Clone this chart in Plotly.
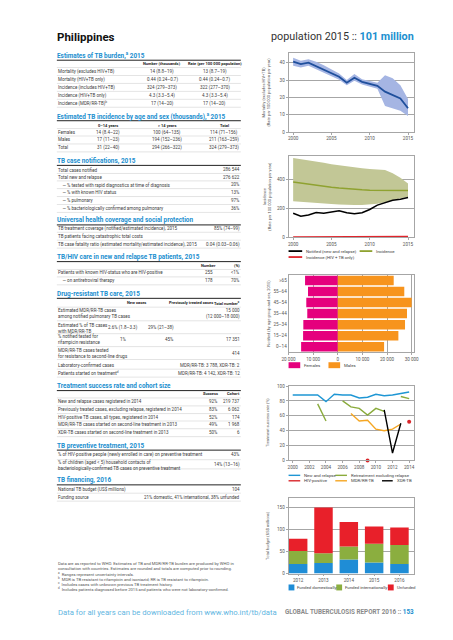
import plotly.graph_objects as go

W, H = 453, 640
def X(px): return px / W
def Y(py): return 1 - py / H

# ---------------- DATA ----------------
years = list(range(2000, 2016))
mort = [40.6, 39.2, 40.0, 38.0, 36.2, 34.2, 31.9, 28.5, 31.3, 29.0, 27.9, 26.7, 23.3, 21.3, 19.4, 13.7]
mort_lo = [38.2, 37.3, 38.3, 36.3, 34.5, 32.5, 30.2, 27.0, 29.6, 27.5, 26.3, 25.0, 15.0, 13.5, 12.3, 9.2]
mort_hi = [42.8, 41.2, 42.0, 40.5, 38.5, 36.3, 33.8, 30.0, 33.5, 30.5, 29.5, 28.4, 32.7, 31.0, 27.0, 19.0]

inc = [380, 372, 364, 357, 350, 344, 338, 333, 329, 326, 324, 323, 322, 322, 322, 322]
inc_lo = [248, 245, 240, 236, 232, 228, 225, 222, 222, 222, 225, 230, 240, 255, 268, 277]
inc_hi = [545, 538, 530, 520, 512, 503, 495, 487, 480, 475, 470, 467, 462, 440, 410, 370]
notified = [165, 144, 153, 170, 165, 175, 182, 168, 161, 168, 191, 221, 240, 254, 261, 274]
inc_hiv = [1.5, 1.7, 1.9, 2.1, 2.3, 2.5, 2.7, 2.9, 3.1, 3.3, 3.5, 3.7, 3.9, 4.1, 4.2, 4.3]

age_groups = ["0–14", "15–24", "25–34", "35–44", "45–54", "55–64", "≥65"]
females = [14900, 14100, 14000, 12400, 12800, 12100, 13300]
males = [18800, 24600, 27300, 28100, 30000, 27000, 22700]
pyr_ticks = [-20000, -10000, 0, 10000, 20000, 30000]
pyr_ticktext = ["20 000", "10 000", "0", "10 000", "20 000", "30 000"]

ts_years = list(range(2000, 2015))
ts_new = [88, 88, 88, 88, 79, 89, 88, 88, 84, 85, 89, 87, 88, 90, 92]
ts_ret = [None, None, None, 76, 53, None, 80, 72, 70, 61, 70, 66, None, 86, 83]
ts_hiv = [None, None, None, None, None, None, None, None, None, 0, None, None, None, None, 52]
ts_mdr = [None, None, None, None, None, None, None, 63, 53, 54, 42, 40, 42, 49, None]
ts_xdr = [None, None, None, None, None, None, None, None, None, None, None, 68, 10, 50, None]

bud_years = [2012, 2013, 2014, 2015, 2016]
bud_dom = [21.5, 23.7, 31.8, 25.2, 21.8]
bud_int = [29.5, 22.3, 29.0, 42.2, 42.6]
bud_unf = [27.5, 103.0, 55.5, 38.6, 39.5]

burden_head = ["Number (thousands)", "Rate (per 100 000 population)"]
burden_rows = [
    ["Mortality (excludes HIV+TB)", "14 (8.8–19)", "13 (8.7–19)"],
    ["Mortality (HIV+TB only)", "0.44 (0.24–0.7)", "0.44 (0.24–0.7)"],
    ["Incidence (includes HIV+TB)", "324 (279–373)", "322 (277–370)"],
    ["Incidence (HIV+TB only)", "4.3 (3.3–5.4)", "4.3 (3.3–5.4)"],
    ["Incidence (MDR/RR-TB)<sup>b</sup>", "17 (14–20)", "17 (14–20)"],
]
agesex_head = ["0–14 years", "> 14 years", "Total"]
agesex_rows = [
    ["Females", "14 (8.4–22)", "100 (64–135)", "114 (71–156)"],
    ["Males", "17 (11–23)", "194 (152–236)", "211 (163–259)"],
    ["Total", "31 (22–40)", "294 (266–322)", "324 (279–373)"],
]
notif_rows = [
    ["Total cases notified", "286 544"],
    ["Total new and relapse", "276 622"],
    ["    — % tested with rapid diagnostics at time of diagnosis", "20%"],
    ["    — % with known HIV status", "13%"],
    ["    — % pulmonary", "97%"],
    ["    — % bacteriologically confirmed among pulmonary", "36%"],
]
uhc_rows = [
    ["TB treatment coverage (notified/estimated incidence), 2015", "85% (74–99)"],
    ["TB patients facing catastrophic total costs", ""],
    ["TB case fatality ratio (estimated mortality/estimated incidence), 2015", "0.04 (0.03–0.06)"],
]
tbhiv_head = ["Number", "(%)"]
tbhiv_rows = [
    ["Patients with known HIV-status who are HIV-positive", "255", "<1%"],
    ["    — on antiretroviral therapy", "178", "70%"],
]
dr_head = ["New cases", "Previously treated cases", "Total number<sup>c</sup>"]
dr_rows = [
    ["Estimated MDR/RR-TB cases<br>among notified pulmonary TB cases", "", "", "15 000<br>(12 000–18 000)"],
    ["Estimated % of TB cases<br>with MDR/RR-TB", "2.6% (1.8–3.3)", "29% (21–38)", ""],
    ["% notified tested for<br>rifampicin resistance", "1%", "45%", "17 351"],
    ["MDR/RR-TB cases tested<br>for resistance to second-line drugs", "", "", "414"],
    ["Laboratory-confirmed cases", "", "", "MDR/RR-TB: 3 788, XDR-TB: 2"],
    ["Patients started on treatment<sup>d</sup>", "", "", "MDR/RR-TB: 4 142, XDR-TB: 12"],
]
tsr_head = ["Success", "Cohort"]
tsr_rows = [
    ["New and relapse cases registered in 2014", "92%", "219 737"],
    ["Previously treated cases, excluding relapse, registered in 2014", "83%", "6 062"],
    ["HIV-positive TB cases, all types, registered in 2014", "52%", "174"],
    ["MDR/RR-TB cases started on second-line treatment in 2013", "49%", "1 968"],
    ["XDR-TB cases started on second-line treatment in 2013", "50%", "6"],
]
prev_rows = [
    ["% of HIV-positive people (newly enrolled in care) on preventive treatment", "43%"],
    ["% of children (aged < 5) household contacts of<br>bacteriologically-confirmed TB cases on preventive treatment", "14% (13–16)"],
]
fin_rows = [
    ["National TB budget (US$ millions)", "104"],
    ["Funding source", "21% domestic, 41% international, 38% unfunded"],
]
footnotes = [
    "Data are as reported to WHO. Estimates of TB and MDR/RR-TB burden are produced by WHO in",
    "consultation with countries. Estimates are rounded and totals are computed prior to rounding.",
    "<sup>a</sup>  Ranges represent uncertainty intervals.",
    "<sup>b</sup>  MDR is TB resistant to rifampicin and isoniazid; RR is TB resistant to rifampicin.",
    "<sup>c</sup>  Includes cases with unknown previous TB treatment history.",
    "<sup>d</sup>  Includes patients diagnosed before 2015 and patients who were not laboratory-confirmed.",
]

# ---------------- STYLE HELPERS ----------------
FONT = "Roboto"
TXT = "#3c3c3c"
BLUE = "#1b8fcf"
ann, shp = [], []

def text(x, y, s, size=4.5, color=TXT, anchor="left", bold=False, angle=0, yanchor="middle"):
    if bold:
        s = "<b>" + s + "</b>"
    ann.append(dict(x=X(x), y=Y(y), xref="paper", yref="paper", text=s, showarrow=False,
                    xanchor=anchor, yanchor=yanchor, textangle=angle, borderpad=0,
                    align=anchor if anchor in ("left", "right") else "center",
                    font=dict(size=size, color=color, family=FONT)))

def hline(x0, x1, y, color="#c9c9c9", w=0.5):
    shp.append(dict(type="line", xref="paper", yref="paper", x0=X(x0), x1=X(x1),
                    y0=Y(y), y1=Y(y), line=dict(color=color, width=w)))

def rect(x0, y0, x1, y1, color):
    shp.append(dict(type="rect", xref="paper", yref="paper", x0=X(x0), x1=X(x1),
                    y0=Y(y1), y1=Y(y0), line=dict(width=0), fillcolor=color))

TL, TR = 43, 232

def section(title, hy, rows, ys, cols, head=None, head_y=None):
    text(TL - 1, hy, title, size=6.4, color=BLUE, bold=True)
    hline(TL, TR, hy + 4.6, color="#222222", w=1)
    allys = []
    if head is not None:
        for (cx, an), h in zip(cols, head):
            text(cx, head_y, h, size=4.0, anchor=an, bold=True, color="#222222")
        allys.append(head_y)
    for r, y in zip(rows, ys):
        text(TL, y, r[0])
        for (cx, an), v in zip(cols, r[1:]):
            if v:
                text(cx, y, v, anchor=an)
        allys.append(y)
    for i, y in enumerate(allys):
        nxt = allys[i + 1] if i + 1 < len(allys) else None
        sy = (y + nxt) / 2 if nxt is not None else y + 4
        hline(TL, TR, sy)

# ---------------- PAGE TEXT ----------------
text(42, 27, "Philippines", size=11.5, color="#111111", bold=True)
text(411, 27, "population 2015 :: <b><span style='color:%s'>101 million</span></b>" % BLUE,
     size=10.8, color="#333333", anchor="right")

section("Estimates of TB burden,<sup>a</sup> 2015", 46, burden_rows, [62, 70, 78, 86, 94],
        [(151, "center"), (205, "center")], burden_head, 54)
section("Estimated TB incidence by age and sex (thousands),<sup>a</sup> 2015", 107, agesex_rows,
        [123, 131, 139], [(96, "center"), (156, "center"), (215, "center")], agesex_head, 116)
section("TB case notifications, 2015", 152, notif_rows, [161, 168.5, 176, 184, 192, 200],
        [(TR, "right")])
section("Universal health coverage and social protection", 212, uhc_rows, [220, 228, 236],
        [(TR, "right")])
section("TB/HIV care in new and relapse TB patients, 2015", 249, tbhiv_rows, [265, 273],
        [(199, "center"), (TR, "right")], tbhiv_head, 258)
section("Drug-resistant TB care, 2015", 286, dr_rows, [306, 320.5, 332, 346.5, 358, 366],
        [(111, "center"), (164, "right"), (TR, "right")], None, None)
for (cx, an), h in zip([(125, "center"), (181, "center"), (TR, "right")], dr_head):
    text(cx, 295, h, size=4.0, anchor=an, bold=True, color="#222222")
hline(TL, TR, 299.5)
section("Treatment success rate and cohort size", 379, tsr_rows, [395, 403, 410.5, 418, 426],
        [(210, "right"), (TR, "right")], tsr_head, 387)
section("TB preventive treatment, 2015", 439, prev_rows, [448, 458.5], [(TR, "right")])
section("TB financing, 2016", 474, fin_rows, [483, 491], [(TR, "right")])

for i, f in enumerate(footnotes):
    text(TL, 558 + i * 5.2, f, size=4.2, color="#555555")
text(TL, 607, "Data for all years can be downloaded from www.who.int/tb/data", size=7.7, color="#5fb6df")
text(411, 607, "<b>GLOBAL TUBERCULOSIS REPORT 2016 :: </b><b><span style='color:%s'>153</span></b>" % BLUE,
     size=6.3, color="#8a8a8a", anchor="right")

# ---------------- CHARTS ----------------
fig = go.Figure()
PX0, PX1 = 281, 410
doms = {1: (43, 123), 2: (147, 229), 3: (267, 345), 4: (379, 454), 5: (492, 568)}
GRID = "#a6a6a6"
TICKF = dict(size=4.6, color="#555555", family=FONT)

def axes(n, xr, yr, xtv, ytv, xtt=None, ytt=None, ycat=False, xgrid=False):
    y0, y1 = doms[n]
    xa = dict(domain=[X(PX0), X(PX1)], range=xr, tickvals=xtv, ticktext=xtt, showgrid=xgrid,
              gridcolor=GRID, gridwidth=0.6, showline=True, mirror=True, linecolor=GRID, linewidth=0.8,
              ticks="outside", ticklen=2, tickcolor=GRID, tickfont=TICKF, zeroline=False,
              anchor="y%d" % n if n > 1 else "y", fixedrange=True)
    ya = dict(domain=[Y(y1), Y(y0)], showgrid=not ycat, gridcolor=GRID, gridwidth=0.6,
              showline=True, mirror=True, linecolor=GRID, linewidth=0.8, ticks="outside" if not ycat else "",
              ticklen=2, tickcolor=GRID, tickfont=TICKF, zeroline=False,
              anchor="x%d" % n if n > 1 else "x", fixedrange=True)
    if ycat:
        ya.update(type="category", categoryorder="array", categoryarray=age_groups)
    else:
        ya.update(range=yr, tickvals=ytv, ticktext=ytt)
    k = "" if n == 1 else str(n)
    fig.update_layout(**{"xaxis" + k: xa, "yaxis" + k: ya})

def xy(n):
    return ("x", "y") if n == 1 else ("x%d" % n, "y%d" % n)

# chart 1: mortality
xa, ya = xy(1)
fig.add_trace(go.Scatter(x=years, y=mort_lo, mode="lines", line=dict(width=0), xaxis=xa, yaxis=ya, showlegend=False))
fig.add_trace(go.Scatter(x=years, y=mort_hi, mode="lines", line=dict(width=0), fill="tonexty",
                         fillcolor="#a5b5e3", xaxis=xa, yaxis=ya, showlegend=False))
fig.add_trace(go.Scatter(x=years, y=mort, mode="lines", line=dict(color="#1f4f9c", width=1.8),
                         xaxis=xa, yaxis=ya, showlegend=False))
axes(1, [1999.4, 2015.8], [0, 45.8], [2000, 2005, 2010, 2015], [0, 10, 20, 30, 40])

# chart 2: incidence
xa, ya = xy(2)
fig.add_trace(go.Scatter(x=years, y=inc_lo, mode="lines", line=dict(width=0), xaxis=xa, yaxis=ya, showlegend=False))
fig.add_trace(go.Scatter(x=years, y=inc_hi, mode="lines", line=dict(width=0), fill="tonexty",
                         fillcolor="#c2c796", xaxis=xa, yaxis=ya, showlegend=False))
fig.add_trace(go.Scatter(x=years, y=inc, mode="lines", line=dict(color="#8fa230", width=1.5),
                         xaxis=xa, yaxis=ya, showlegend=False))
fig.add_trace(go.Scatter(x=years, y=notified, mode="lines", line=dict(color="#000000", width=1.5),
                         xaxis=xa, yaxis=ya, showlegend=False))
fig.add_trace(go.Scatter(x=years, y=inc_hiv, mode="lines", line=dict(color="#e0242b", width=1.5),
                         xaxis=xa, yaxis=ya, showlegend=False))
axes(2, [1999.4, 2015.8], [0, 560], [2000, 2005, 2010, 2015], [0, 200, 400])

# chart 3: pyramid
xa, ya = xy(3)
fig.add_trace(go.Bar(y=age_groups, x=[-v for v in females], orientation="h", marker=dict(color="#e5007d", line=dict(width=0)),
                     xaxis=xa, yaxis=ya, showlegend=False, width=0.86))
fig.add_trace(go.Bar(y=age_groups, x=males, orientation="h", marker=dict(color="#f7941d", line=dict(width=0)),
                     xaxis=xa, yaxis=ya, showlegend=False, width=0.86))
axes(3, [-20000, 31000], None, pyr_ticks, None, xtt=pyr_ticktext, ycat=True, xgrid=True)

# chart 4: treatment success
xa, ya = xy(4)
for ys, col in [(ts_new, "#1e96d4"), (ts_ret, "#8aab3c"), (ts_mdr, "#f5a623"), (ts_xdr, "#000000")]:
    fig.add_trace(go.Scatter(x=ts_years, y=ys, mode="lines", line=dict(color=col, width=1.4),
                             connectgaps=False, xaxis=xa, yaxis=ya, showlegend=False))
fig.add_trace(go.Scatter(x=ts_years, y=ts_hiv, mode="markers", marker=dict(color="#d9262b", size=4),
                         xaxis=xa, yaxis=ya, showlegend=False, cliponaxis=False))
axes(4, [1999.5, 2014.6], [0, 100], list(range(2000, 2015, 2)), [0, 20, 40, 60, 80, 100])

# chart 5: budget
xa, ya = xy(5)
for vals, col in [(bud_dom, "#1f8dd6"), (bud_int, "#8bae3f"), (bud_unf, "#e8202a")]:
    fig.add_trace(go.Bar(x=bud_years, y=vals, marker=dict(color=col, line=dict(width=0)), width=0.73,
                         xaxis=xa, yaxis=ya, showlegend=False))
axes(5, [2011.62, 2016.58], [0, 170], bud_years, [0, 50, 100, 150])

# axis titles
text(258, 83, "Mortality (excludes HIV+TB)<br>(Rate per 100 000 population per year)", size=4.0,
     color="#555555", anchor="center", angle=-90)
text(258, 188, "Incidence<br>(Rate per 100 000 population per year)", size=4.0,
     color="#555555", anchor="center", angle=-90)
text(260, 306, "Notified (by age group and sex, 2015)", size=4.0, color="#555555", anchor="center", angle=-90)
text(260, 416, "Treatment success rate (%)", size=4.0, color="#555555", anchor="center", angle=-90)
text(260, 530, "Total budget (US$ millions)", size=4.0, color="#555555", anchor="center", angle=-90)

# manual legends
def lsw(x0, x1, y, col, w=1.8):
    hline(x0, x1, y, color=col, w=w)
LF = 4.3
lsw(281, 295, 243, "#000000"); text(298, 243, "Notified (new and relapse)", size=LF)
lsw(354, 367, 243, "#8fa230"); text(370, 243, "Incidence", size=LF)
lsw(281, 295, 249, "#e0242b"); text(298, 249, "Incidence (HIV + TB only)", size=LF)

rect(281, 355, 293, 361, "#e5007d"); text(296, 358, "Females", size=LF)
rect(322, 355, 334, 361, "#f7941d"); text(337, 358, "Males", size=LF)

lsw(281, 293, 469, "#1e96d4", 1.4); text(296, 469, "New and relapse", size=LF)
lsw(329, 341, 469, "#8aab3c", 1.4); text(344, 469, "Retreatment excluding relapse", size=LF)
lsw(281, 293, 474.5, "#d9262b", 1.4); text(296, 474.5, "HIV-positive", size=LF)
lsw(329, 341, 474.5, "#f5a623", 1.4); text(344, 474.5, "MDR/RR-TB", size=LF)
lsw(377, 388, 474.5, "#000000", 1.4); text(391, 474.5, "XDR-TB", size=LF)

rect(281, 579, 287, 585, "#1f8dd6"); text(289, 582, "Funded domestically", size=LF)
rect(330, 579, 336, 585, "#8bae3f"); text(338, 582, "Funded internationally", size=LF)
rect(383, 579, 389, 585, "#e8202a"); text(391, 582, "Unfunded", size=LF)

fig.update_layout(width=W, height=H, margin=dict(l=0, r=0, t=0, b=0), paper_bgcolor="white",
                  plot_bgcolor="white", barmode="relative", bargap=0.1, annotations=ann, shapes=shp,
                  font=dict(family=FONT, size=5), showlegend=False)
fig.write_html("out.html", config={"displayModeBar": False})
